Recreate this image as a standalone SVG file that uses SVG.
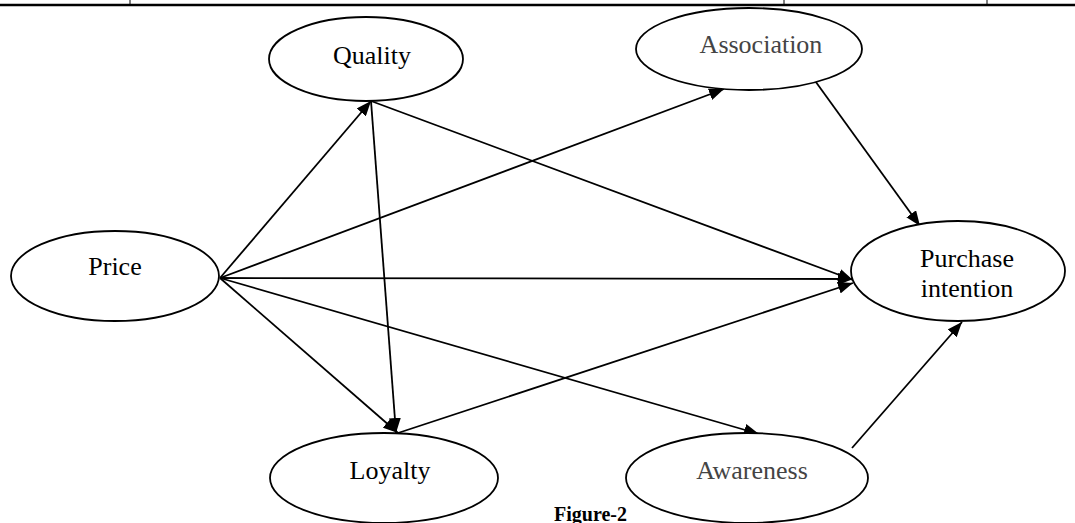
<svg xmlns="http://www.w3.org/2000/svg" width="1075" height="523" viewBox="0 0 1075 523">
<style>
.node ellipse{fill:#fff;stroke:#000;stroke-width:1.8}
.lbl{font-family:"Liberation Serif","Times New Roman",serif;font-size:26px;fill:#000;text-anchor:middle}
.gray{fill:#444}
.edge{stroke:#000;stroke-width:1.8;fill:none;marker-end:url(#ah)}
.rule{stroke:#000}
</style>
<defs>
<marker id="ah" markerUnits="userSpaceOnUse" markerWidth="16" markerHeight="12" refX="15" refY="6" orient="auto">
<path d="M0,0 L15,6 L0,12 z" fill="#000"/>
</marker>
</defs>
<rect width="1075" height="523" fill="#fff"/>
<g id="table-rule">
<line class="rule" x1="0" y1="5" x2="1075" y2="5" stroke-width="2.5"/>
<line class="rule" x1="130" y1="0" x2="130" y2="5" stroke-width="1"/>
<line class="rule" x1="784" y1="0" x2="784" y2="5" stroke-width="1"/>
<line class="rule" x1="987" y1="0" x2="987" y2="5" stroke-width="1"/>
</g>
<g id="connectors">
<line class="edge" x1="220" y1="278" x2="371" y2="101"/>
<line class="edge" x1="371" y1="101" x2="396" y2="433"/>
<line class="edge" x1="220" y1="278" x2="398" y2="433"/>
<line class="edge" x1="398" y1="433" x2="853" y2="283"/>
<line class="edge" x1="220" y1="278" x2="724" y2="89"/>
<line class="edge" x1="220" y1="278" x2="853" y2="279"/>
<line class="edge" x1="371" y1="101" x2="853" y2="280"/>
<line class="edge" x1="220" y1="278" x2="759" y2="434"/>
<line class="edge" x1="813" y1="78" x2="920" y2="226"/>
<line class="edge" x1="852" y1="448" x2="962" y2="322"/>
</g>
<g id="quality" class="node">
<ellipse cx="366" cy="59" rx="97" ry="42"/>
<text class="lbl" x="372" y="64">Quality</text>
</g>
<g id="association" class="node">
<ellipse cx="749" cy="49" rx="113" ry="41"/>
<text class="lbl gray" x="761" y="53">Association</text>
</g>
<g id="price" class="node">
<ellipse cx="115" cy="276" rx="104" ry="45"/>
<text class="lbl" x="115" y="275">Price</text>
</g>
<g id="purchase-intention" class="node">
<ellipse cx="958" cy="271" rx="107" ry="50"/>
<text class="lbl" x="967" y="267">Purchase</text>
<text class="lbl" x="967" y="297">intention</text>
</g>
<g id="loyalty" class="node">
<ellipse cx="384" cy="478" rx="114" ry="45"/>
<text class="lbl" x="390" y="479">Loyalty</text>
</g>
<g id="awareness" class="node">
<ellipse cx="747" cy="478" rx="121" ry="45"/>
<text class="lbl gray" x="752" y="479">Awareness</text>
</g>
<text x="627" y="521" font-family="'Liberation Serif','Times New Roman',serif" font-size="20" font-weight="bold" text-anchor="end">Figure-2</text>
</svg>
